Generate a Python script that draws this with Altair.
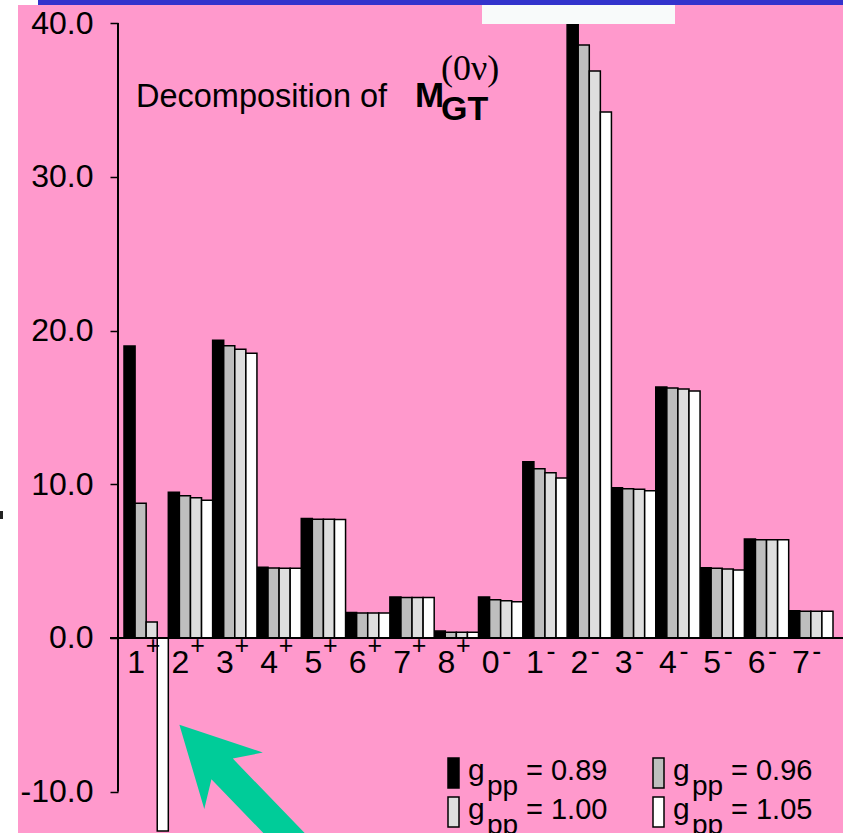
import altair as alt
import pandas as pd

# ---------------- data ----------------
categories = ["1+", "2+", "3+", "4+", "5+", "6+", "7+", "8+",
              "0-", "1-", "2-", "3-", "4-", "5-", "6-", "7-"]
series = ["0.89", "0.96", "1.00", "1.05"]
g089 = [19.00, 9.48, 19.36, 4.60, 7.78, 1.66, 2.67, 0.45, 2.67, 11.47, 40.80, 9.78, 16.33, 4.57, 6.44, 1.78]
g096 = [8.76, 9.26, 19.01, 4.55, 7.72, 1.62, 2.63, 0.37, 2.49, 11.01, 38.57, 9.71, 16.26, 4.53, 6.39, 1.74]
g100 = [1.04, 9.13, 18.78, 4.53, 7.72, 1.62, 2.63, 0.37, 2.43, 10.75, 36.88, 9.67, 16.20, 4.49, 6.39, 1.74]
g105 = [-12.55, 8.96, 18.52, 4.53, 7.70, 1.62, 2.63, 0.37, 2.36, 10.41, 34.21, 9.58, 16.07, 4.42, 6.39, 1.74]
colors = ["#000000", "#BEBEBE", "#DEDEDE", "#FFFFFF"]
y_ticks = [-10, 0, 10, 20, 30, 40]

rows = []
for s, vals in zip(series, [g089, g096, g100, g105]):
    for c, v in zip(categories, vals):
        rows.append({"cat": c, "series": s, "value": v})
df = pd.DataFrame(rows)
lab = pd.DataFrame({"cat": categories,
                    "digit": [c[0] for c in categories],
                    "sign": [c[1] for c in categories]})
one = pd.DataFrame({"a": [0]})

FONT = "Liberation Sans"
W, H = 725, 833
LEFT = 118
PINK = "#FF99CC"

xscale = alt.Scale(domain=categories, range=[6, 715], paddingInner=0, paddingOuter=0)
yscale = alt.Scale(domain=[-12.683, 41.496], nice=False, zero=False)

bars = alt.Chart(df).mark_bar(stroke="black", strokeWidth=1.5, opacity=1).encode(
    x=alt.X("cat:N", scale=xscale, sort=categories, axis=None),
    xOffset=alt.XOffset("series:N", sort=series,
                        scale=alt.Scale(paddingInner=0, paddingOuter=0)),
    y=alt.Y("value:Q", scale=yscale,
            axis=alt.Axis(values=y_ticks,
                          labelExpr="replace(format(datum.value, '.1f'), '\u2212', '-')",
                          domain=False, grid=False, ticks=True, tickSize=8,
                          tickWidth=1.5, tickColor="black", labelFont=FONT,
                          labelFontSize=32, labelColor="black", labelPadding=17,
                          title=None)),
    y2=alt.datum(0),
    fill=alt.Fill("series:N", scale=alt.Scale(domain=series, range=colors), legend=None),
)

yline = alt.Chart(one).mark_rule(color="black", strokeWidth=2).encode(
    x=alt.value(0), y=alt.datum(-10), y2=alt.datum(40))
zline = alt.Chart(one).mark_rule(color="black", strokeWidth=2).encode(
    x=alt.value(-8), x2=alt.value(W), y=alt.datum(0))

xenc = alt.X("cat:N", scale=xscale, sort=categories, axis=None)
digits = alt.Chart(lab).mark_text(font=FONT, fontSize=32, baseline="alphabetic",
                                  align="center", dx=-10, color="black").encode(
    x=xenc, y=alt.value(673), text="digit:N")
plus = alt.Chart(lab).transform_filter("datum.sign == '+'").mark_text(
    font=FONT, fontSize=25, baseline="alphabetic", align="center", dx=7,
    color="black").encode(x=xenc, y=alt.value(654), text="sign:N")
minus = alt.Chart(lab).transform_filter("datum.sign == '-'").mark_text(
    font=FONT, fontSize=27, baseline="alphabetic", align="center", dx=6,
    color="black").encode(x=xenc, y=alt.value(660), text="sign:N")


def rect(x1, x2, y1, y2, color, stroke=None, sw=0):
    kw = dict(color=color, opacity=1)
    if stroke:
        kw.update(stroke=stroke, strokeWidth=sw)
    return alt.Chart(one).mark_rect(**kw).encode(
        x=alt.value(x1 - LEFT), x2=alt.value(x2 - LEFT),
        y=alt.value(y1), y2=alt.value(y2))


def txt(s, x, y, size, font=FONT, weight="normal"):
    return alt.Chart(one).mark_text(text=s, font=font, fontSize=size,
                                    fontWeight=weight, align="left",
                                    baseline="alphabetic", color="black").encode(
        x=alt.value(x - LEFT), y=alt.value(y))


deco_back = [
    rect(0, 18, 0, H, "white"),
    rect(0, 40, 0, 5, "white"),
    rect(0, 3, 511, 519, "#222222"),
]

title = [
    txt("Decomposition of", 136, 107, 32.5),
    txt("M", 415, 107, 35, weight="bold"),
    txt("GT", 441, 120, 34, weight="bold"),
    txt("(0\u03bd)", 441, 80, 36, font="Liberation Serif"),
]

legend = []
for i, (s, c) in enumerate(zip(series, colors)):
    col, row = i % 2, i // 2
    ox, oy = 205 * col, 39 * row
    legend.append(rect(448 + ox, 459 + ox, 758 + oy, 788 + oy, c, stroke="black", sw=1.5))
    legend.append(txt("g", 468 + ox, 780 + oy, 30))
    legend.append(txt("pp", 487 + ox, 795 + oy, 28))
    legend.append(txt("= " + s, 526 + ox, 780 + oy, 29))

ARROW = ("M0,-1 L0.37,-0.291 L0.135,-0.441 L0.135,1.2 L-0.135,1.2 "
         "L-0.135,-0.441 L-0.37,-0.291 Z")
arrow = alt.Chart(one).mark_point(shape=ARROW, filled=True, fill="#00CC99",
                                  color="#00CC99", strokeWidth=0, opacity=1,
                                  size=48400, angle=316).encode(
    x=alt.value(255.8 - LEFT), y=alt.value(803.8))

deco_front = [
    rect(482, 675, 0, 24, "#F8FAFA"),
    rect(38, 843, 0, 5, "#3333CC"),
]

chart = alt.layer(
    *deco_back, bars, zline, yline, digits, plus, minus,
    *title, *legend, arrow, *deco_front
).properties(
    width=W, height=H, autosize="none",
    padding={"left": LEFT, "top": 0, "right": 0, "bottom": 0},
    background=PINK,
).configure_view(stroke=None)

chart.save("out.html", embed_options={"renderer": "svg", "actions": False})
